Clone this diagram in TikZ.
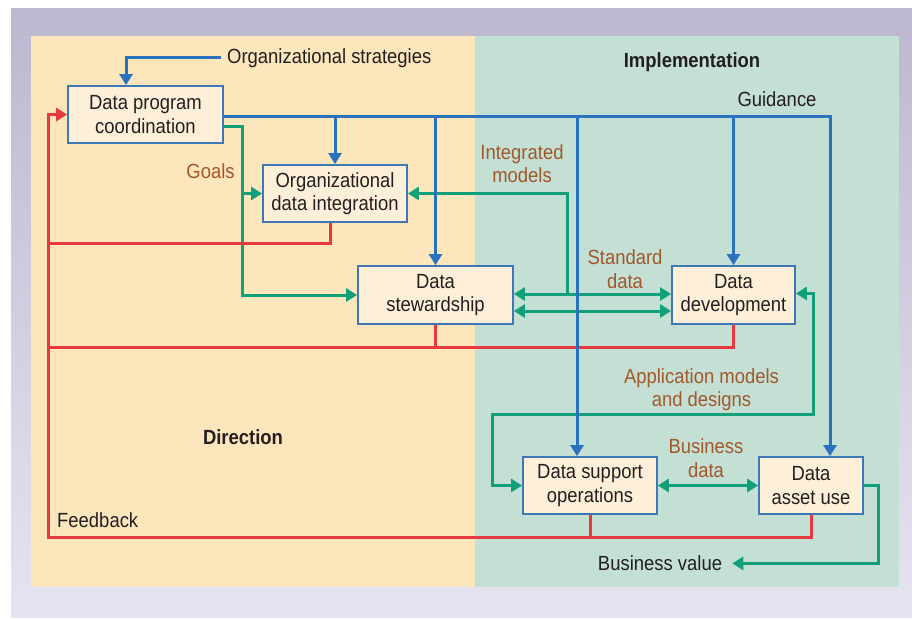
\documentclass[tikz,border=0pt]{standalone}
\usepackage{fontspec}
\setmainfont{Liberation Sans}[FakeStretch=0.9]
\usetikzlibrary{calc,arrows.meta}
\definecolor{frametop}{HTML}{BDB7CF}
\definecolor{framebot}{HTML}{E6E4F0}
\definecolor{dirfill}{HTML}{FDE5BC}
\definecolor{impfill}{HTML}{C4E0D4}
\definecolor{boxfill}{HTML}{FEF0D8}
\definecolor{boxline}{HTML}{3D77B6}
\definecolor{guideblue}{HTML}{2B72BE}
\definecolor{datagreen}{HTML}{12A07A}
\definecolor{fbred}{HTML}{E43A3F}
\definecolor{labbrown}{HTML}{A2572B}
\definecolor{inkdark}{HTML}{231F20}

\begin{document}
\begin{tikzpicture}
	[x=1pt,y=-1pt,>={Triangle[length=11pt,width=13pt]}]
	\tikzstyle{every node}=[font=\fontsize{20.5}{23.4}\selectfont, text=inkdark]
	\tikzstyle{box}=[rectangle, draw=boxline, line width=1.8pt, fill=boxfill, align=center, inner sep=0pt]
	\tikzstyle{note}=[text=labbrown, align=center, inner sep=0pt]
	\tikzstyle{heading}=[font=\fontsize{20.5}{23.4}\selectfont\bfseries, inner sep=0pt]
	\tikzstyle{guide}=[draw=guideblue, line width=3pt]
	\tikzstyle{data}=[draw=datagreen, line width=3pt]
	\tikzstyle{fdbk}=[draw=fbred, line width=3pt]

	% frame and the two panels
	\useasboundingbox (0,0) rectangle (912,619);
	\fill[white] (0,0) rectangle (912,619);
	\shade[top color=frametop, bottom color=framebot] (11,8) rectangle (912,617);
	\fill[dirfill] (31,36) rectangle (475,587);
	\fill[impfill] (475,36) rectangle (899,587);

	\node[box, minimum width=155pt, minimum height=57pt] (dpc) at (145.5,114.5) {Data program\\coordination};
	\node[box, minimum width=144pt, minimum height=57pt] (odi) at (335,193.5) {Organizational\\data integration};
	\node[box, minimum width=155pt, minimum height=58pt] (stew) at (435.5,295) {Data\\stewardship};
	\node[box, minimum width=123pt, minimum height=58pt] (dev) at (733.5,295) {Data\\development};
	\node[box, minimum width=134pt, minimum height=57pt] (dso) at (590,485.5) {Data support\\operations};
	\node[box, minimum width=104pt, minimum height=57pt] (dau) at (811,485.5) {Data\\asset use};

	\node[heading, anchor=base] (impl) at (692,67) {Implementation};
	\node[heading, anchor=base] (dir) at (243,444) {Direction};
	\node[anchor=west, inner xsep=6pt, inner ysep=0pt] (orgstr) at (221,57.7) {Organizational strategies};
	\node[anchor=base, inner sep=0pt] (guid) at (777,106) {Guidance};
	\node[anchor=base west, inner sep=0pt] (fblab) at (57,527.7) {Feedback};
	\node[anchor=base, inner xsep=10pt, inner ysep=0pt] (bval) at (660,570.7) {Business value};
	\node[note, anchor=base] (goals) at (210.5,178) {Goals};
	\node[note] (intm) at (522,163.5) {Integrated\\models};
	\node[note] (stdd) at (625,269) {Standard\\data};
	\node[note] (appm) at (701.5,389.7) {Application models\\and designs};
	\node[note] (busd) at (706,458.3) {Business\\data};

	% data flows
	\coordinate (gx) at ($(dpc.east)+(19,11.5)$);
	\coordinate (imx) at ($(stew.east)+(54,-1)$);
	\coordinate (amx) at (492,414);
	\draw[data,->] ([yshift=-11.5pt]dpc.east) -- (gx) |- (stew.west);
	\draw[data,->] (gx |- odi.west) -- (odi.west);
	\draw[data,<->] ([yshift=1pt]stew.east) -- ([yshift=1pt]dev.west);
	\draw[data,<->] ([yshift=-16pt]stew.east) -- ([yshift=-16pt]dev.west);
	\draw[data,->] (imx) |- (odi.east);
	\draw[data,<->] ([yshift=1.5pt]dev.east) -- ++(18,0) |- (amx) |- (dso.west);
	\draw[data,<->] (dso.east) -- (dau.west);
	\draw[data,->] (dau.east) -- ++(15,0) |- (bval.east);

	% feedback
	\coordinate (fb) at (48,537);
	\coordinate (r1) at ($(odi.south)+(-5,21)$);
	\coordinate (r2) at ($(stew.south)+(0,23)$);
	\draw[fdbk,->] (dau.south) |- (fb) |- (dpc.west);
	\draw[fdbk] (dso.south) -- (dso.south |- fb);
	\draw[fdbk] (dev.south) |- (fb |- r2);
	\draw[fdbk] (stew.south) -- (stew.south |- r2);
	\draw[fdbk] ([xshift=-5pt]odi.south) -- (r1) -- (fb |- r1);

	% guidance
	\coordinate (gl) at ([yshift=-1.5pt]dpc.east);
	\coordinate (dauin) at ($(dau.north)+(19,0)$);
	\coordinate (dsoin) at ($(dso.north)+(-13,0)$);
	\coordinate (dpcin) at ($(dpc.north)+(-19.5,0)$);
	\draw[guide,->] (gl) -| (dauin);
	\draw[guide,->] (gl -| odi.north) -- (odi.north);
	\draw[guide,->] (gl -| stew.north) -- (stew.north);
	\draw[guide,->] (gl -| dev.north) -- (dev.north);
	\draw[guide,->] (gl -| dsoin) -- (dsoin);
	\draw[guide,->] (orgstr.west) -| (dpcin);
\end{tikzpicture}
\end{document}
